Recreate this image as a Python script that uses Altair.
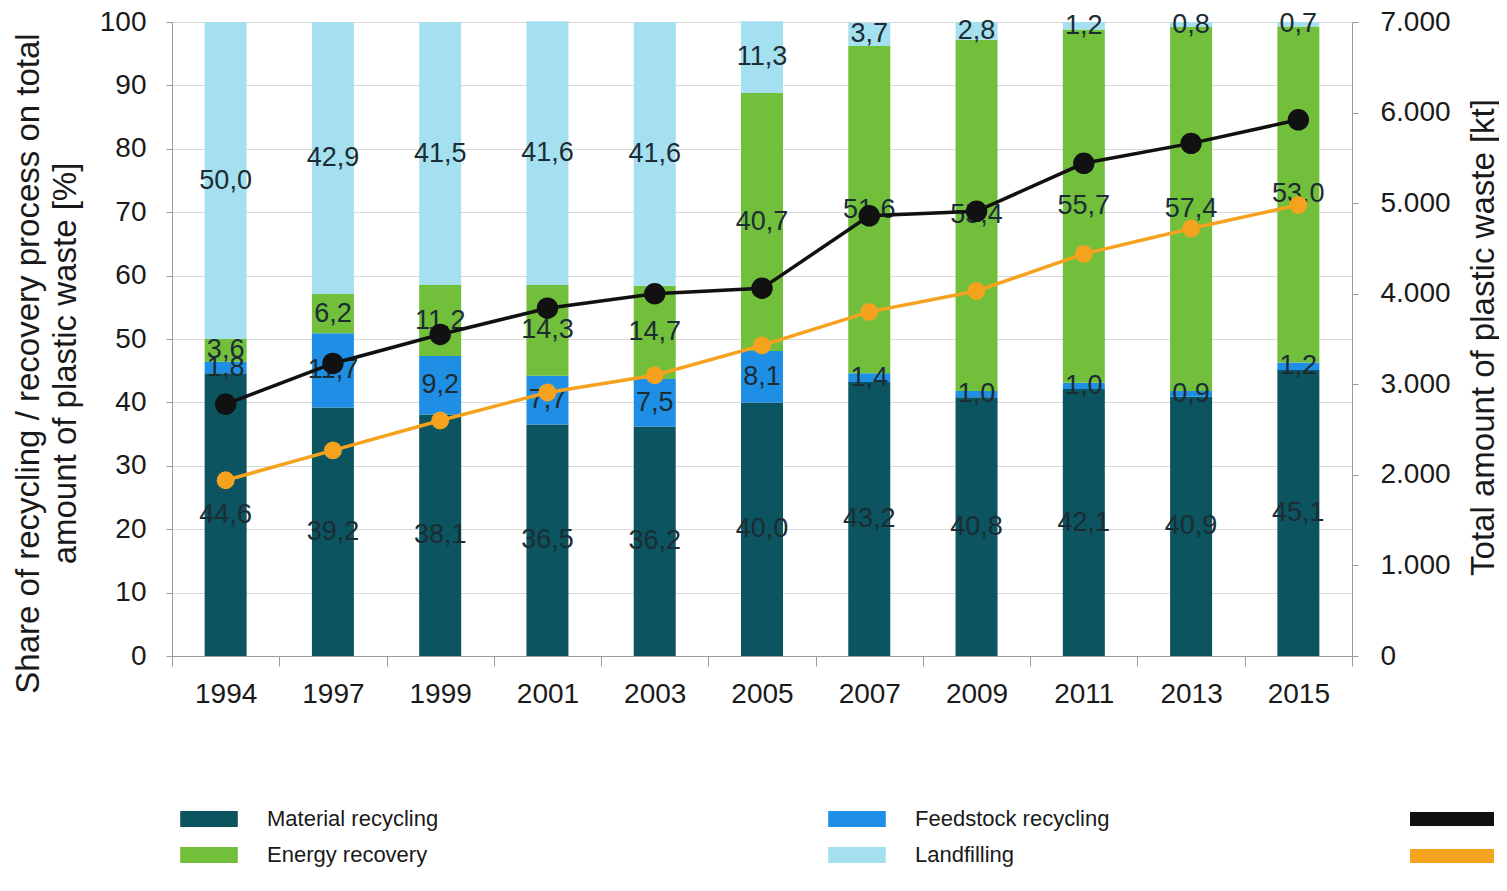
import altair as alt
import pandas as pd

years = ["1994", "1997", "1999", "2001", "2003", "2005", "2007", "2009", "2011", "2013", "2015"]
processes = ["Material recycling", "Feedstock recycling", "Energy recovery", "Landfilling"]
material = [44.6, 39.2, 38.1, 36.5, 36.2, 40.0, 43.2, 40.8, 42.1, 40.9, 45.1]
feedstock = [1.8, 11.7, 9.2, 7.7, 7.5, 8.1, 1.4, 1.0, 1.0, 0.9, 1.2]
energy = [3.6, 6.2, 11.2, 14.3, 14.7, 40.7, 51.6, 55.4, 55.7, 57.4, 53.0]
landfill = [50.0, 42.9, 41.5, 41.6, 41.6, 11.3, 3.7, 2.8, 1.2, 0.8, 0.7]
process_colors = ["#0b5460", "#1f8fe5", "#72bf3b", "#a4e0f0"]
legend_order = ["Material recycling", "Energy recovery", "Feedstock recycling", "Landfilling"]

line_series = ["Total plastic waste", "Post-consumer plastic waste"]
total_kt = [2780, 3230, 3550, 3840, 4000, 4060, 4860, 4910, 5440, 5660, 5920]
post_kt = [1940, 2270, 2600, 2910, 3100, 3430, 3800, 4030, 4440, 4720, 4980]
line_colors = ["#111111", "#f5a21f"]

rows = []
for i, y in enumerate(years):
    for k, (p, vals) in enumerate(zip(processes, [material, feedstock, energy, landfill])):
        rows.append({"year": y, "process": p, "order": k, "value": vals[i]})
bar_df = pd.DataFrame(rows)

lrows = []
for i, y in enumerate(years):
    lrows.append({"year": y, "series": line_series[0], "kt": total_kt[i]})
    lrows.append({"year": y, "series": line_series[1], "kt": post_kt[i]})
line_df = pd.DataFrame(lrows)

FONT = "Liberation Sans"

x_enc = alt.X(
    "year:N",
    sort=years,
    scale=alt.Scale(domain=years, paddingInner=0, paddingOuter=0),
    axis=alt.Axis(
        title=None, labelAngle=0, labelFontSize=28, labelColor="#1a1a1a",
        labelPadding=14, tickBand="extent", ticks=True, tickSize=10,
        tickColor="#9a9a9a", domainColor="#9a9a9a", grid=False,
    ),
)

base = alt.Chart(bar_df).transform_stack(
    stack="value", groupby=["year"], as_=["y0", "y1"],
    sort=[alt.SortField("order", order="ascending")],
).transform_calculate(
    mid="(datum.y0 + datum.y1) / 2",
    label="replace(format(datum.value, '.1f'), '.', ',')",
)

bars = base.mark_bar(width=42).encode(
    x=x_enc,
    y=alt.Y(
        "y0:Q",
        scale=alt.Scale(domain=[0, 100], nice=False),
        axis=alt.Axis(
            orient="left", values=list(range(0, 101, 10)), labelFontSize=28,
            labelColor="#1a1a1a", labelPadding=20, tickSize=6, tickColor="#9a9a9a",
            domainColor="#9a9a9a", gridColor="#d9d9d9", grid=True,
            title=["Share of recycling / recovery process on total", "amount of plastic waste  [%]"],
            titleFontSize=33, titleFontWeight="normal", titleColor="#1a1a1a",
            titleAngle=-90, titleAlign="center", titleBaseline="top",
            titleLineHeight=37, titleX=-160, titleY=341,
        ),
    ),
    y2="y1:Q",
    color=alt.Color(
        "process:N",
        scale=alt.Scale(domain=processes, range=process_colors),
        legend=alt.Legend(
            title=None, orient="none", legendX=26, legendY=786, columns=2,
            values=legend_order, columnPadding=389, rowPadding=14,
            labelFontSize=22, labelColor="#1a1a1a", labelLimit=600, labelOffset=47,
            symbolType="M-3.6,-1H3.6V1H-3.6Z", symbolSize=256,
            symbolStrokeWidth=0, symbolOpacity=1,
        ),
    ),
)

labels = base.mark_text(fontSize=27, color="#1c2c33", font=FONT).encode(
    x=alt.X("year:N", sort=years),
    y=alt.Y("mid:Q"),
    text="label:N",
)

left = alt.layer(bars, labels)

lbase = alt.Chart(line_df)
lines = lbase.mark_line(strokeWidth=3.5).encode(
    x=alt.X("year:N", sort=years),
    y=alt.Y(
        "kt:Q",
        scale=alt.Scale(domain=[0, 7000], nice=False),
        axis=alt.Axis(
            orient="right", values=list(range(0, 7001, 1000)), labelFontSize=28,
            labelColor="#1a1a1a", labelPadding=22, tickSize=6, tickColor="#9a9a9a",
            domainColor="#9a9a9a", grid=False,
            labelExpr="replace(format(datum.value, ','), ',', '.')",
            title="Total amount of plastic waste [kt]", titleFontSize=33,
            titleFontWeight="normal", titleColor="#1a1a1a", titleAngle=-90,
            titleAlign="center", titleBaseline="top", titleX=115, titleY=315,
        ),
    ),
    color=alt.Color(
        "series:N",
        scale=alt.Scale(domain=line_series, range=line_colors),
        legend=alt.Legend(
            title=None, orient="none", legendX=1266, legendY=783, rowPadding=16,
            labelExpr="''", labelOffset=0, symbolType="M-3,-0.5H3V0.5H-3Z",
            symbolSize=784, symbolStrokeWidth=0, symbolOpacity=1,
        ),
    ),
)
points = lbase.mark_circle(opacity=1).encode(
    x=alt.X("year:N", sort=years),
    y=alt.Y("kt:Q"),
    color=alt.Color("series:N"),
    size=alt.Size("series:N", scale=alt.Scale(domain=line_series, range=[460, 320]), legend=None),
)
right = alt.layer(lines, points)

chart = alt.layer(left, right).resolve_scale(
    y="independent", color="independent"
).properties(
    width=1180, height=634,
    padding={"left": 164, "top": 14, "right": 147, "bottom": 222},
    autosize=alt.AutoSizeParams(type="none"),
    background="white",
).configure_view(stroke=None).configure(font=FONT)

chart.save("out.html", embed_options={"renderer": "svg", "actions": False})
